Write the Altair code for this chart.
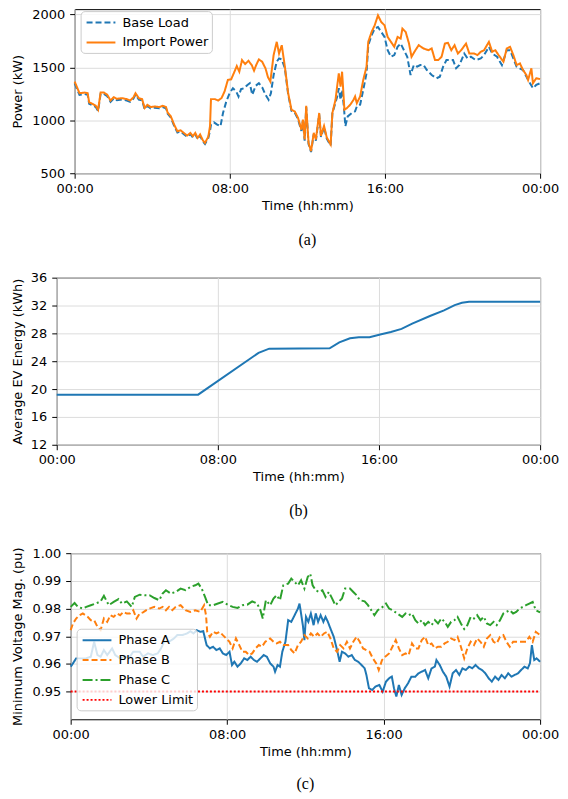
import altair as alt
import pandas as pd

X_TICKS = [0, 8, 16, 24]
X_LABELS = ["00:00", "08:00", "16:00", "00:00"]

# ---------------- (a) power ----------------
IMPORT_T = [0.00,0.25,0.50,0.67,0.75,0.92,1.09,1.21,1.34,1.51,1.68,1.85,2.02,2.18,2.44,2.69,2.86,3.03,3.14,3.31,
            3.48,3.61,3.75,3.92,4.12,4.37,4.54,4.71,4.79,4.96,5.13,5.30,5.46,5.63,5.80,5.97,6.10,6.22,6.34,6.47,
            6.61,6.72,6.89,6.98,7.03,7.23,7.40,7.57,7.73,7.90,8.07,8.24,8.36,8.49,8.63,8.79,8.96,9.13,9.25,9.36,
            9.50,9.67,9.84,9.97,10.09,10.26,10.42,10.54,10.68,10.84,11.01,11.18,11.35,11.52,11.69,11.77,11.86,11.94,12.06,12.19,
            12.33,12.44,12.61,12.70,12.86,13.00,13.20,13.29,13.45,13.62,13.71,13.79,13.91,14.04,14.21,14.38,14.46,14.55,14.72,14.88,
            15.05,15.14,15.31,15.47,15.64,15.81,15.98,16.14,16.31,16.48,16.65,16.81,16.90,17.07,17.24,17.37,17.57,17.74,17.99,18.25,
            18.41,18.58,18.75,18.92,19.09,19.25,19.42,19.59,19.76,19.93,20.18,20.35,20.60,20.77,20.94,21.11,21.36,21.53,21.69,21.86,
            22.11,22.28,22.45,22.62,22.79,22.96,23.12,23.29,23.38,23.55,23.63,23.80,24.00]
IMPORT_KW = [1366,1256,1262,1256,1169,1156,1137,1100,1262,1262,1241,1187,1219,1203,1209,1200,1187,1216,1256,1209,
             1200,1116,1147,1125,1131,1125,1137,1125,1075,1037,959,897,906,881,856,881,850,881,834,866,
             812,787,844,944,1200,1200,1187,1209,1272,1381,1387,1459,1512,1459,1569,1531,1562,1522,1469,1522,
             1575,1553,1491,1406,1366,1616,1741,1631,1709,1506,1256,1100,1084,1022,912,1006,819,1137,787,709,
             881,819,1069,853,947,838,772,1069,1194,1444,1319,1459,1100,1116,1147,1194,1225,1162,1225,1381,
             1506,1741,1834,1897,1991,1928,1897,1787,1741,1694,1787,1772,1866,1834,1725,1600,1662,1709,1678,1662,
             1678,1569,1569,1600,1725,1731,1662,1709,1631,1662,1725,1631,1631,1616,1647,1662,1741,1647,1662,1616,
             1553,1678,1694,1616,1522,1537,1475,1428,1381,1491,1350,1397,1390]

BASE_T = [0.00,0.25,0.50,0.67,0.75,0.92,1.09,1.21,1.34,1.51,1.68,1.85,2.02,2.18,2.44,2.69,2.86,3.03,3.14,3.31,
          3.48,3.61,3.75,3.92,4.12,4.37,4.54,4.71,4.79,4.96,5.13,5.30,5.46,5.63,5.80,5.97,6.10,6.22,6.34,6.47,
          6.61,6.72,6.89,6.98,7.03,7.18,7.35,7.52,7.65,7.82,7.99,8.16,8.33,8.45,8.58,8.74,8.91,9.03,9.16,9.33,
          9.50,9.67,9.84,10.00,10.12,10.26,10.42,10.54,10.68,10.84,11.01,11.18,11.35,11.52,11.69,11.77,11.86,11.94,12.06,12.19,
          12.33,12.44,12.61,12.70,12.86,13.00,13.20,13.29,13.54,13.62,13.71,13.79,13.88,13.96,14.08,14.30,14.46,14.55,14.72,14.88,
          15.05,15.14,15.31,15.47,15.64,15.81,15.98,16.14,16.31,16.48,16.65,16.81,16.98,17.15,17.32,17.49,17.66,17.82,17.99,18.16,
          18.41,18.66,18.83,19.00,19.17,19.34,19.51,19.67,19.84,20.09,20.26,20.43,20.68,20.94,21.11,21.36,21.53,21.78,22.03,22.28,
          22.45,22.62,22.79,23.12,23.38,23.63,23.80,24.00]
BASE_KW = [1350,1240,1248,1242,1155,1142,1125,1088,1250,1250,1228,1175,1207,1190,1196,1187,1175,1204,1243,1196,
           1188,1104,1135,1113,1119,1113,1125,1113,1063,1025,947,885,894,869,844,869,838,869,822,854,
           800,776,832,900,959,981,959,944,1069,1178,1256,1303,1272,1225,1294,1303,1334,1350,1241,1325,
           1350,1312,1241,1194,1256,1428,1553,1584,1575,1491,1244,1090,1072,1010,900,994,808,1125,776,700,
           870,808,1057,842,935,827,762,1069,1225,1303,1194,1287,1131,944,1037,1069,1084,1131,1147,1287,
           1444,1709,1803,1866,1881,1834,1787,1662,1600,1616,1694,1725,1662,1600,1428,1522,1506,1522,1522,1475,
           1428,1397,1412,1506,1569,1569,1569,1491,1522,1631,1584,1600,1569,1584,1616,1694,1631,1600,1522,1662,
           1662,1584,1506,1475,1381,1303,1334,1350]

SERIES_A = ["Base Load", "Import Power"]
COLORS_A = ["#1f77b4", "#ff7f0e"]
DASH_A = [[6, 3], [1, 0]]
Y_TICKS_A = [500, 1000, 1500, 2000]

# ---------------- (b) EV energy ----------------
EV_T = [0, 7.02, 10.02, 10.55, 13.55, 14.03, 14.56, 15.0, 15.53, 16.06, 16.59, 17.12, 17.65, 18.53, 19.23, 19.76, 20.12, 20.47, 24]
EV_KWH = [19.2, 19.2, 25.2, 25.8, 25.85, 26.7, 27.3, 27.45, 27.45, 27.85, 28.2, 28.65, 29.4, 30.5, 31.3, 32.05, 32.4, 32.55, 32.55]
Y_TICKS_B = [12, 16, 20, 24, 28, 32, 36]

# ---------------- (c) voltages ----------------
PA_T = [0.00,0.12,0.28,0.53,0.78,1.03,1.20,1.37,1.53,1.70,1.87,2.12,2.28,2.53,2.78,3.03,3.20,3.37,3.53,3.70,
        3.95,4.20,4.45,4.62,4.78,5.03,5.28,5.45,5.70,5.95,6.12,6.28,6.45,6.62,6.78,6.95,7.12,7.28,7.45,7.62,
        7.78,7.95,8.12,8.25,8.37,8.53,8.70,8.87,9.03,9.20,9.37,9.53,9.70,9.87,10.03,10.20,10.37,10.45,10.58,10.70,
        10.82,10.98,11.12,11.28,11.45,11.62,11.70,11.87,11.95,12.03,12.15,12.28,12.42,12.53,12.65,12.78,12.92,13.03,13.15,13.28,
        13.45,13.62,13.75,13.87,14.03,14.20,14.37,14.53,14.70,14.87,15.03,15.12,15.25,15.42,15.58,15.78,15.95,16.12,16.28,16.42,
        16.53,16.65,16.78,16.92,17.08,17.25,17.42,17.62,17.78,17.95,18.12,18.28,18.45,18.62,18.70,18.87,19.03,19.20,19.37,19.53,
        19.70,19.87,20.03,20.20,20.37,20.53,20.70,20.87,21.03,21.20,21.37,21.53,21.70,21.87,22.03,22.20,22.37,22.53,22.70,22.87,
        23.03,23.20,23.37,23.48,23.58,23.70,23.82,24.00]
PA_V = [.9590,.9602,.9620,.9620,.9620,.9626,.9680,.9632,.9626,.9650,.9632,.9656,.9632,.9620,.9626,.9626,.9644,.9644,.9644,.9626,
        .9638,.9632,.9638,.9656,.9680,.9680,.9692,.9704,.9704,.9710,.9718,.9710,.9722,.9716,.9718,.9668,.9656,.9662,.9650,.9656,
        .9638,.9632,.9644,.9596,.9608,.9590,.9602,.9620,.9614,.9626,.9614,.9608,.9620,.9632,.9626,.9602,.9590,.9572,.9596,.9590,
        .9644,.9680,.9758,.9752,.9776,.9800,.9818,.9740,.9686,.9770,.9752,.9782,.9740,.9782,.9752,.9776,.9752,.9770,.9752,.9728,
        .9698,.9650,.9608,.9644,.9638,.9626,.9632,.9614,.9608,.9596,.9584,.9560,.9512,.9506,.9518,.9524,.9500,.9536,.9548,.9554,
        .9512,.9482,.9524,.9488,.9512,.9530,.9554,.9554,.9566,.9572,.9578,.9548,.9584,.9590,.9614,.9596,.9572,.9554,.9518,.9566,
        .9578,.9560,.9584,.9578,.9590,.9584,.9596,.9584,.9578,.9566,.9548,.9536,.9554,.9542,.9560,.9548,.9566,.9554,.9560,.9566,
        .9578,.9590,.9584,.9602,.9668,.9614,.9620,.9608]

PB_T = [0.00,0.12,0.28,0.45,0.62,0.87,1.03,1.20,1.37,1.53,1.70,1.87,2.03,2.20,2.37,2.53,2.70,2.87,3.03,3.20,
        3.37,3.53,3.70,3.87,4.03,4.28,4.53,4.70,4.87,5.03,5.20,5.37,5.62,5.87,6.12,6.37,6.62,6.82,6.92,6.98,
        7.12,7.28,7.45,7.62,7.78,7.95,8.12,8.28,8.45,8.62,8.78,8.95,9.12,9.28,9.45,9.62,9.78,9.95,10.20,10.37,
        10.53,10.70,10.87,11.12,11.28,11.45,11.62,11.78,11.95,12.12,12.28,12.45,12.62,12.78,12.95,13.12,13.28,13.45,13.62,13.78,
        13.95,14.12,14.28,14.45,14.62,14.78,14.95,15.12,15.28,15.45,15.62,15.75,15.92,16.08,16.28,16.45,16.62,16.78,16.95,17.12,
        17.28,17.45,17.62,17.78,17.95,18.12,18.28,18.45,18.62,18.78,18.95,19.12,19.28,19.45,19.62,19.78,19.95,20.12,20.28,20.45,
        20.62,20.78,20.95,21.12,21.28,21.45,21.62,21.78,21.95,22.12,22.28,22.45,22.62,22.78,22.95,23.12,23.28,23.45,23.62,23.78,
        24.00]
PB_V = [.9722,.9746,.9764,.9776,.9782,.9770,.9758,.9758,.9734,.9722,.9764,.9752,.9776,.9770,.9782,.9776,.9788,.9782,.9782,.9794,
        .9764,.9782,.9786,.9794,.9800,.9806,.9800,.9806,.9794,.9806,.9794,.9806,.9812,.9794,.9788,.9794,.9788,.9812,.9776,.9716,
        .9698,.9716,.9710,.9716,.9704,.9692,.9680,.9656,.9692,.9668,.9644,.9644,.9632,.9638,.9656,.9668,.9662,.9680,.9692,.9680,
        .9674,.9680,.9668,.9668,.9650,.9638,.9668,.9680,.9704,.9692,.9710,.9698,.9710,.9698,.9710,.9716,.9692,.9656,.9644,.9668,
        .9656,.9680,.9656,.9680,.9698,.9680,.9656,.9650,.9644,.9620,.9602,.9578,.9614,.9626,.9638,.9662,.9686,.9656,.9632,.9638,
        .9632,.9674,.9656,.9656,.9686,.9698,.9668,.9674,.9656,.9662,.9662,.9674,.9680,.9692,.9686,.9698,.9662,.9620,.9656,.9680,
        .9668,.9692,.9680,.9662,.9692,.9704,.9680,.9674,.9698,.9704,.9680,.9662,.9680,.9680,.9680,.9680,.9680,.9698,.9680,.9716,
        .9704]

PC_T = [0.00,0.20,0.37,0.62,0.80,1.03,1.28,1.53,1.70,1.95,2.20,2.45,2.62,2.87,3.12,3.28,3.53,3.78,4.03,4.28,
        4.53,4.70,4.87,5.12,5.37,5.62,5.87,6.12,6.37,6.53,6.70,6.87,7.03,7.28,7.53,7.78,8.03,8.28,8.53,8.78,
        9.03,9.28,9.53,9.70,9.82,9.98,10.20,10.37,10.53,10.70,10.87,11.12,11.28,11.45,11.62,11.78,11.95,12.12,12.25,12.37,
        12.53,12.70,12.87,13.03,13.20,13.37,13.53,13.70,13.87,14.03,14.28,14.45,14.62,14.78,15.03,15.20,15.37,15.53,15.70,15.95,
        16.12,16.28,16.45,16.70,16.95,17.12,17.28,17.45,17.62,17.78,17.95,18.12,18.28,18.45,18.62,18.78,18.95,19.12,19.28,19.45,
        19.62,19.78,19.95,20.12,20.28,20.45,20.62,20.78,20.95,21.12,21.28,21.45,21.62,21.78,21.95,22.12,22.28,22.45,22.62,22.78,
        22.95,23.12,23.28,23.45,23.62,23.78,24.00]
PC_V = [.9806,.9820,.9806,.9800,.9806,.9812,.9818,.9826,.9846,.9812,.9824,.9834,.9818,.9826,.9806,.9842,.9850,.9848,.9848,.9838,
        .9830,.9854,.9866,.9854,.9860,.9872,.9866,.9878,.9884,.9890,.9872,.9842,.9812,.9812,.9818,.9824,.9814,.9806,.9802,.9812,
        .9814,.9826,.9818,.9794,.9764,.9830,.9812,.9836,.9848,.9830,.9884,.9890,.9908,.9896,.9884,.9902,.9872,.9914,.9926,.9884,
        .9866,.9860,.9866,.9842,.9860,.9836,.9812,.9824,.9836,.9872,.9872,.9860,.9848,.9830,.9826,.9812,.9794,.9776,.9794,.9806,
        .9818,.9800,.9794,.9782,.9770,.9782,.9776,.9782,.9758,.9746,.9758,.9740,.9752,.9740,.9758,.9746,.9764,.9752,.9734,.9752,
        .9758,.9770,.9746,.9726,.9740,.9770,.9764,.9776,.9758,.9770,.9746,.9740,.9752,.9740,.9758,.9782,.9788,.9794,.9782,.9788,
        .9800,.9806,.9812,.9818,.9824,.9794,.9786]

LIM_T = [0, 24]
LIM_V = [0.95, 0.95]

SERIES_C = ["Phase A", "Phase B", "Phase C", "Lower Limit"]
COLORS_C = ["#1f77b4", "#ff7f0e", "#2ca02c", "#ff0000"]
DASH_C = [[1, 0], [6, 3], [10, 3, 2, 3], [2, 2]]
Y_TICKS_C = [0.95, 0.96, 0.97, 0.98, 0.99, 1.00]

CAPTIONS = ["(a)", "(b)", "(c)"]

# ---------------- build ----------------
FONT = "DejaVu Sans"
GRID = "#dcdcdc"

df_a = pd.concat([
    pd.DataFrame({"t": BASE_T, "v": BASE_KW, "s": SERIES_A[0]}),
    pd.DataFrame({"t": IMPORT_T, "v": IMPORT_KW, "s": SERIES_A[1]}),
])
df_b = pd.DataFrame({"t": EV_T, "v": EV_KWH})
df_c = pd.concat([
    pd.DataFrame({"t": PA_T, "v": PA_V, "s": SERIES_C[0]}),
    pd.DataFrame({"t": PB_T, "v": PB_V, "s": SERIES_C[1]}),
    pd.DataFrame({"t": PC_T, "v": PC_V, "s": SERIES_C[2]}),
    pd.DataFrame({"t": LIM_T, "v": LIM_V, "s": SERIES_C[3]}),
])

label_expr = ("[" + ",".join("'%s'" % l for l in X_LABELS) + "][indexof(["
              + ",".join(str(v) for v in X_TICKS) + "], datum.value)]")


def x_enc():
    return alt.X("t:Q", scale=alt.Scale(domain=[0, 24], nice=False, zero=False),
                 axis=alt.Axis(values=X_TICKS, labelExpr=label_expr, title="Time (hh:mm)",
                               tickSize=5, labelPadding=4, titlePadding=4, labelFlush=False))


def y_axis(values, title, extent, fmt):
    return alt.Axis(values=values, title=title, tickSize=5, labelPadding=5, format=fmt,
                    minExtent=extent, maxExtent=extent, titlePadding=0, labelFlush=False)


def caption(text, offset):
    return alt.Title(text, orient="bottom", font="Liberation Serif", fontSize=16,
                     fontWeight="normal", offset=offset, anchor="middle", color="black")


def legend(x, y):
    # wide, flat custom symbol: a 29px line whose nominal size stays small
    return alt.Legend(title=None, orient="none", legendX=x, legendY=y,
                      fillColor="rgba(255,255,255,0.8)", strokeColor="#cccccc",
                      cornerRadius=4, padding=3, symbolType="M-2,0L2,0", symbolSize=210,
                      symbolStrokeWidth=2, symbolOffset=9, labelFontSize=13, labelFont=FONT,
                      labelOffset=13, rowPadding=4, labelColor="black")


def spacer():
    # invisible 1px cell: lets every panel keep its own left edge
    return alt.Chart(pd.DataFrame({"t": [0]})).mark_rect(opacity=0).encode(
        x=alt.value(0), x2=alt.value(1), y=alt.value(0), y2=alt.value(1)
    ).properties(width=1, height=1, view={"stroke": "transparent"})


def row(panel):
    return alt.hconcat(spacer(), panel, spacing=0).resolve_scale(
        color="independent", strokeDash="independent"
    ).resolve_legend(color="independent", strokeDash="independent")


pa = alt.Chart(df_a, title=caption(CAPTIONS[0], 20)).mark_line(strokeWidth=2).encode(
    x=x_enc(),
    y=alt.Y("v:Q", scale=alt.Scale(domain=[500, 2050], nice=False, zero=False),
            axis=y_axis(Y_TICKS_A, "Power (kW)", 50, "d")),
    color=alt.Color("s:N", scale=alt.Scale(domain=SERIES_A, range=COLORS_A), legend=legend(6, 2)),
    strokeDash=alt.StrokeDash("s:N", scale=alt.Scale(domain=SERIES_A, range=DASH_A), legend=legend(6, 2)),
).properties(width=468, height=165)

pb = alt.Chart(df_b, title=caption(CAPTIONS[1], 20)).mark_line(strokeWidth=2, color="#1f77b4").encode(
    x=x_enc(),
    y=alt.Y("v:Q", scale=alt.Scale(domain=[12, 36], nice=False, zero=False),
            axis=y_axis(Y_TICKS_B, "Average EV Energy (kWh)", 32, "d")),
).properties(width=486, height=168)

pc = alt.Chart(df_c, title=caption(CAPTIONS[2], 18)).mark_line(strokeWidth=2).encode(
    x=x_enc(),
    y=alt.Y("v:Q", scale=alt.Scale(domain=[0.94, 1.00], nice=False, zero=False),
            axis=y_axis(Y_TICKS_C, "Minimum Voltage Mag. (pu)", 46, ".2f")),
    color=alt.Color("s:N", scale=alt.Scale(domain=SERIES_C, range=COLORS_C), legend=legend(6, 76)),
    strokeDash=alt.StrokeDash("s:N", scale=alt.Scale(domain=SERIES_C, range=DASH_C), legend=legend(6, 76)),
).properties(width=472, height=167)

top = alt.vconcat(row(pa), row(pb), spacing=22).resolve_scale(
    color="independent", strokeDash="independent"
).resolve_legend(color="independent", strokeDash="independent")

chart = alt.vconcat(top, row(pc), spacing=26).resolve_scale(
    color="independent", strokeDash="independent"
).resolve_legend(color="independent", strokeDash="independent"
).properties(padding={"top": -3, "left": 0, "right": 0, "bottom": 0}).configure_view(
    stroke="black", strokeWidth=1
).configure_axis(
    labelFont=FONT, titleFont=FONT, labelFontSize=13, titleFontSize=13,
    labelColor="black", titleColor="black", titleFontWeight="normal",
    tickColor="black", tickWidth=1, domain=False,
    grid=True, gridColor=GRID, gridWidth=1,
)

chart.save("out.html", embed_options={"renderer": "svg", "actions": False})
